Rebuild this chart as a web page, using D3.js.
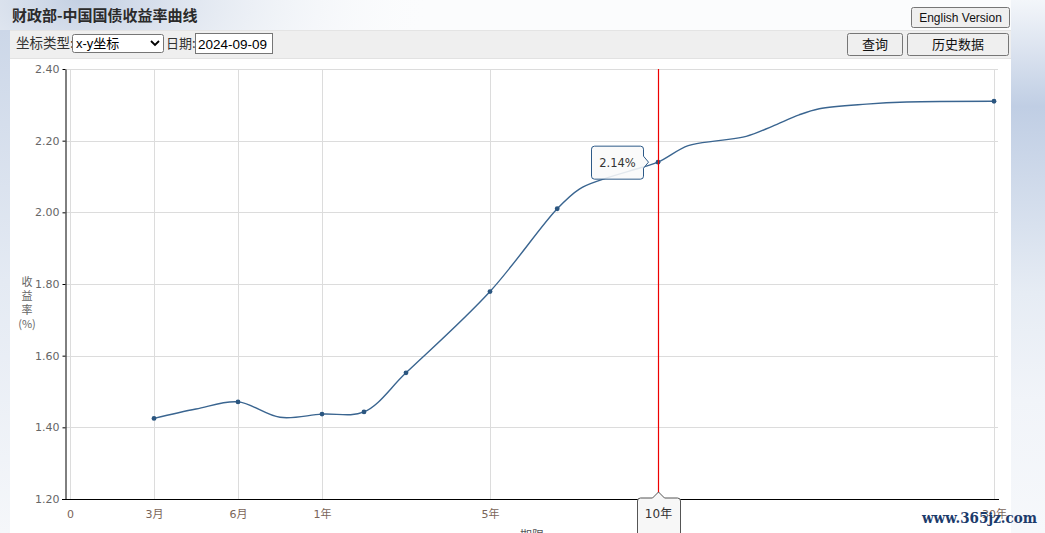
<!DOCTYPE html>
<html><head><meta charset="utf-8">
<script src="https://cdn.jsdelivr.net/npm/d3@7/dist/d3.min.js"></script>
<style>html,body{margin:0;padding:0;overflow:hidden;background:#fff}</style>
</head><body><svg id="c" width="1045" height="533"></svg>
<script>
// ---- data ----
const markerYears  = [0.25, 0.5, 1, 2, 3, 5, 7, 10, 30];
const markerYields = [1.425, 1.471, 1.437, 1.443, 1.552, 1.779, 2.010, 2.140, 2.310];
const curveYears  = [0.25, 0.375, 0.5, 0.75, 1, 2, 3, 5, 7, 7.66, 8.35, 9.5, 10, 11.8, 13.6, 15.25, 16.8, 18.4, 19.6, 22.4, 24.8, 30];
const curveYields = [1.425, 1.451, 1.471, 1.428, 1.437, 1.443, 1.552, 1.779, 2.010, 2.065, 2.092, 2.125, 2.140, 2.186, 2.200, 2.212, 2.240, 2.272, 2.289, 2.302, 2.308, 2.310];
const xTickYears  = [0, 0.25, 0.5, 1, 5, 10, 30];
const xTickLabels = ["0", "3月", "6月", "1年", "5年", "10年", "30年"];
const xBreakUnits = [0, 1, 2, 3, 5, 7, 11];
const yTicks = [1.2, 1.4, 1.6, 1.8, 2.0, 2.2, 2.4];
const selectedYear = 10, selectedLabel = "10年";
const titleText = "财政部-中国国债收益率曲线";

const svg = d3.select("#c");
const W = 1045, H = 533;
const plot = {left: 70, right: 994, top: 69, bottom: 499};

// ---- background ----
const defs = svg.append("defs");
const rg = defs.append("radialGradient").attr("id","tl").attr("cx","0.08").attr("cy","0").attr("r","0.35");
rg.append("stop").attr("offset","0").attr("stop-color","#c3cfe2");
rg.append("stop").attr("offset","1").attr("stop-color","#ffffff").attr("stop-opacity","0");
const rgr = defs.append("linearGradient").attr("id","rs").attr("x1",0).attr("y1",0).attr("x2",0).attr("y2",1);
[["0","#f3f6fa"],["0.08","#dfe6f1"],["0.2","#c0cee4"],["0.38","#d3ddec"],["0.55","#e6ecf4"],["0.75","#f1f4f9"],["1","#f6f8fb"]]
  .forEach(s=>rgr.append("stop").attr("offset",s[0]).attr("stop-color",s[1]));
const lgl = defs.append("linearGradient").attr("id","ls").attr("x1",0).attr("y1",0).attr("x2",0).attr("y2",1);
[["0","#ccd7e8"],["0.5","#e4eaf3"],["1","#f5f7fa"]].forEach(s=>lgl.append("stop").attr("offset",s[0]).attr("stop-color",s[1]));

svg.append("rect").attr("width",W).attr("height",H).attr("fill","#fbfcfd");
svg.append("rect").attr("width",W).attr("height",H).attr("fill","url(#tl)");
svg.append("rect").attr("x",1011).attr("width",34).attr("height",H).attr("fill","url(#rs)");
svg.append("rect").attr("x",0).attr("width",10).attr("y",30).attr("height",H-30).attr("fill","url(#ls)");

// toolbar + panel
svg.append("rect").attr("x",10).attr("y",30).attr("width",1001).attr("height",28).attr("fill","#efefef");
svg.append("line").attr("x1",10).attr("x2",1011).attr("y1",30.5).attr("y2",30.5).attr("stroke","#e4e4e4");
svg.append("rect").attr("x",10).attr("y",58).attr("width",1001).attr("height",H-58).attr("fill","#ffffff");
svg.append("line").attr("x1",10).attr("x2",1011).attr("y1",58.5).attr("y2",58.5).attr("stroke","#e2e2e2");

// title
svg.append("text").attr("x",12).attr("y",21).attr("font-family","'Noto Sans CJK SC',sans-serif")
  .attr("font-size",15).attr("font-weight","bold").attr("fill","#2b2b2b").text(titleText);

function button(x, y, w, h, label, fs){
  svg.append("rect").attr("x",x+0.5).attr("y",y+0.5).attr("width",w).attr("height",h).attr("rx",2)
    .attr("fill","#efefef").attr("stroke","#767676");
  svg.append("text").attr("x",x+w/2+0.5).attr("y",y+h/2+0.5).attr("dy","0.36em").attr("text-anchor","middle")
    .attr("font-family","'Liberation Sans','Noto Sans CJK SC',sans-serif").attr("font-size",fs).attr("fill","#111").text(label);
}
button(911, 7, 98, 20, "English Version", 12);
button(847, 33, 55, 22, "查询", 13);
button(907, 33, 101, 22, "历史数据", 13);

const tbFont = "'Noto Sans CJK SC',sans-serif";
svg.append("text").attr("x",16).attr("y",48).attr("font-family",tbFont).attr("font-size",13.5).attr("fill","#333").text("坐标类型:");
svg.append("rect").attr("x",72.5).attr("y",34.5).attr("width",91).attr("height",18).attr("rx",2).attr("fill","#fff").attr("stroke","#767676");
svg.append("text").attr("x",76).attr("y",48).attr("font-family","'Liberation Sans','Noto Sans CJK SC',sans-serif").attr("font-size",13).attr("fill","#000").text("x-y坐标");
svg.append("path").attr("d","M151,41 L155,45 L159,41").attr("fill","none").attr("stroke","#000").attr("stroke-width",1.8);
svg.append("text").attr("x",166).attr("y",48).attr("font-family",tbFont).attr("font-size",13).attr("fill","#333").text("日期:");
svg.append("rect").attr("x",195.5).attr("y",33.5).attr("width",77).attr("height",20).attr("fill","#fff").attr("stroke","#767676");
svg.append("text").attr("x",198).attr("y",49).attr("font-family","'Liberation Sans',sans-serif").attr("font-size",13.5).attr("fill","#000").text("2024-09-09");

// ---- scales ----
const unitW = (plot.right - plot.left) / d3.max(xBreakUnits);
const x = d3.scaleLinear().domain(xTickYears).range(xBreakUnits.map(u => plot.left + u*unitW));
const y = d3.scaleLinear().domain([1.2, 2.4]).range([plot.bottom, plot.top]);

const g = svg.append("g");
// grid
g.selectAll(".hg").data(yTicks).join("line").attr("x1",66).attr("x2",998)
  .attr("y1",d=>Math.round(y(d))+0.5).attr("y2",d=>Math.round(y(d))+0.5).attr("stroke","#dcdcdc");
g.selectAll(".vg").data(xTickYears).join("line").attr("y1",plot.top).attr("y2",plot.bottom)
  .attr("x1",d=>Math.round(x(d))+0.5).attr("x2",d=>Math.round(x(d))+0.5).attr("stroke","#dcdcdc");

// y axis
const ya = svg.append("g").attr("transform","translate(65.5,0)")
  .call(d3.axisLeft(y).tickValues(yTicks).tickFormat(d3.format(".2f")).tickSize(3).tickSizeOuter(0).tickPadding(3));
ya.select(".domain").attr("stroke","#000");
ya.selectAll(".tick line").attr("stroke","#000");
ya.selectAll("text").attr("font-family","'DejaVu Sans',sans-serif").attr("font-size",11).attr("fill","#666");

// x axis
const xa = svg.append("g").attr("transform",`translate(0,${plot.bottom})`)
  .call(d3.axisBottom(x).tickValues(xTickYears).tickFormat((d,i)=>xTickLabels[i]).tickSize(0));
xa.select(".domain").remove();
xa.selectAll("text").attr("y",19).attr("dy",0).attr("font-family","'DejaVu Sans','Noto Sans CJK SC',sans-serif")
  .attr("font-size",11).attr("fill","#7a6559");
svg.append("line").attr("x1",62).attr("x2",999).attr("y1",plot.bottom+0.5).attr("y2",plot.bottom+0.5).attr("stroke","#000");

// axis titles
const yl = svg.append("text").attr("font-family","'Noto Sans CJK SC',sans-serif").attr("font-size",11).attr("fill","#666").attr("text-anchor","middle");
["收","益","率","(%)"].forEach((t,i)=>yl.append("tspan").attr("x",27).attr("y",286+i*14).text(t));
svg.append("text").attr("x",532).attr("y",540).attr("text-anchor","middle").attr("font-family","'Noto Sans CJK SC',sans-serif")
  .attr("font-size",12).attr("fill","#555").text("期限");

// ---- curve ----
const pts = curveYears.map((t,i)=>[x(t), y(curveYields[i])]);
svg.append("path").attr("d", d3.line().curve(d3.curveCatmullRom.alpha(0.5))(pts))
  .attr("fill","none").attr("stroke","#3a6590").attr("stroke-width",1.4);
svg.selectAll(".pt").data(markerYears).join("circle").attr("cx",d=>x(d)).attr("cy",(d,i)=>y(markerYields[i]))
  .attr("r",2.4).attr("fill","#2b5680");

// ---- crosshair + tooltips ----
const si = markerYears.indexOf(selectedYear);
const px = Math.round(x(selectedYear)) + 0.5, py = y(markerYields[si]);
svg.append("rect").attr("x",px-0.6).attr("width",1.2).attr("y",plot.top).attr("height",plot.bottom-plot.top)
  .attr("fill","#ee0000").style("fill","#ee0000");

// value tooltip (left of point)
const bR = px-15, bL = px-67, bT = py-16, bB = py+17, r = 3;
svg.append("path").attr("d",
  `M${bL+r},${bT} H${bR-r} Q${bR},${bT} ${bR},${bT+r} V${py-6} L${px-10},${py} L${bR},${py+6} V${bB-r} Q${bR},${bB} ${bR-r},${bB} H${bL+r} Q${bL},${bB} ${bL},${bB-r} V${bT+r} Q${bL},${bT} ${bL+r},${bT} Z`)
  .attr("fill","#f9f9f9").attr("fill-opacity",0.88).attr("stroke","#2d5a88").attr("stroke-width",1);
svg.append("text").attr("x",(bL+bR)/2).attr("y",py+1).attr("dy","0.35em").attr("text-anchor","middle")
  .attr("font-family","'DejaVu Sans',sans-serif").attr("font-size",11.5).attr("fill","#333")
  .text(d3.format(".2f")(markerYields[si]) + "%");

// term tooltip on axis
const tL = px-21, tR = px+22, tT = plot.bottom-1, tB = H+6;
svg.append("path").attr("d",
  `M${tL+r},${tT} H${px-6} L${px},${tT-6} L${px+6},${tT} H${tR-r} Q${tR},${tT} ${tR},${tT+r} V${tB} H${tL} V${tT+r} Q${tL},${tT} ${tL+r},${tT} Z`)
  .attr("fill","#f7f7f7").attr("stroke","#555").attr("stroke-width",1);
svg.append("text").attr("x",px).attr("y",518).attr("text-anchor","middle")
  .attr("font-family","'DejaVu Sans','Noto Sans CJK SC',sans-serif").attr("font-size",12).attr("fill","#333").text(selectedLabel);

// watermark
svg.append("text").attr("x",922).attr("y",523).attr("font-family","'DejaVu Serif',serif").attr("font-weight","bold")
  .attr("font-size",15).attr("textLength",115).attr("lengthAdjust","spacingAndGlyphs")
  .attr("fill","#1c3b6b").text("www.365jz.com");
</script></body></html>
